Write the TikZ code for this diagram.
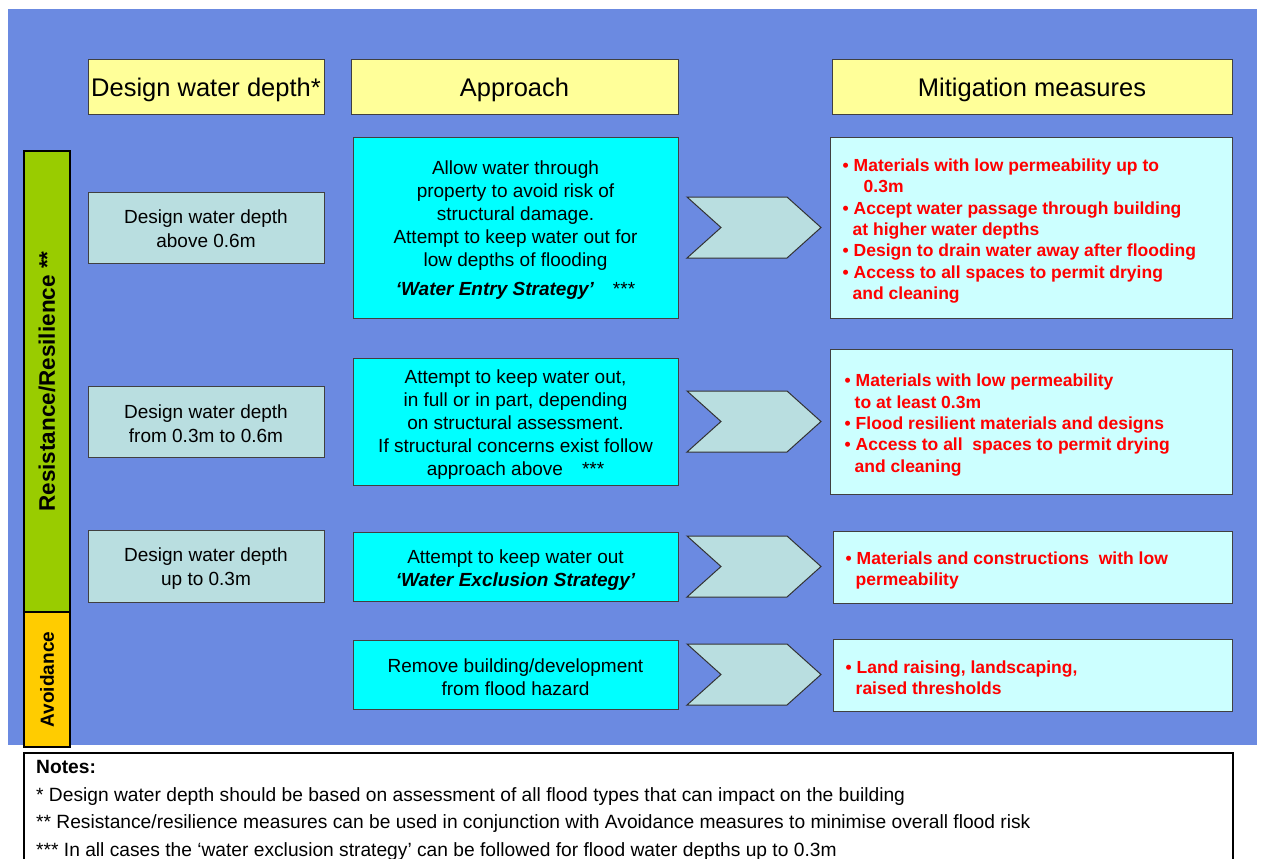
\documentclass[tikz,border=0pt]{standalone}
\usepackage{fontspec}
\setmainfont{Liberation Sans}
\newcommand\myfs[2]{\fontsize{#1}{#2}\selectfont}
\newcommand\bul{\textbullet\hspace{0.28em}}
\definecolor{bgB}{RGB}{107,138,225}
\definecolor{hdrY}{RGB}{255,255,153}
\definecolor{lightB}{RGB}{185,222,224}
\definecolor{cyanB}{RGB}{0,255,255}
\definecolor{mitiB}{RGB}{204,255,255}
\definecolor{greenB}{RGB}{153,204,0}
\definecolor{yellowB}{RGB}{255,204,0}
\begin{document}
\begin{tikzpicture}[x=1pt,y=-1pt,
  box/.style={draw=black!75, line width=1pt, inner sep=0pt},
  hdr/.style={box, fill=hdrY, minimum height=54pt},
  hdrtxt/.style={inner sep=0pt, font=\myfs{25.5}{30}},
  depth/.style={box, fill=lightB, minimum width=236pt, minimum height=71pt},
  depthtxt/.style={inner sep=0pt, align=center, font=\myfs{19}{24}},
  appr/.style={box, fill=cyanB, minimum width=325pt},
  apprtxt/.style={inner sep=0pt, align=center, font=\myfs{19}{23}},
  miti/.style={box, fill=mitiB},
  mititxt/.style={inner sep=0pt, align=left, anchor=west, font=\bfseries\myfs{17.5}{21.3}, text=red},
  chev/.style={draw=black!80, line width=1pt, fill=lightB},
  band/.style={draw=black, line width=2pt, inner sep=0pt, font=\bfseries}]
\useasboundingbox (0,0) rectangle (1261,859);
\clip (0,0) rectangle (1261,859);
\fill[white] (0,0) rectangle (1261,859);
\fill[bgB] (8,9) rectangle (1257,745);

% headers
\node[hdr, minimum width=236pt] (h1) at (206,87) {};
\node[hdr, minimum width=327pt] (h2) at (514.5,87) {};
\node[hdr, minimum width=400pt] (h3) at (1032,87) {};
\node[hdrtxt] (h1t) at ([yshift=-2.5pt]h1.center) {Design water depth*};
\node[hdrtxt] (h2t) at ([yshift=-2.5pt]h2.center) {Approach};
\node[hdrtxt] (h3t) at ([yshift=-2.5pt]h3.center) {Mitigation measures};

% side bands
\node[band, fill=greenB, rotate=90, minimum width=461pt, minimum height=46pt, font=\bfseries\myfs{22.5}{26}] (res) at (47,381.5) {Resistance/Resilience **};
\node[band, fill=yellowB, rotate=90, minimum width=135pt, minimum height=46pt, font=\bfseries\myfs{19}{23}] (avo) at (47,679.5) {Avoidance};

% design water depth boxes
\node[depth] (d1) at (206,227.5) {};
\node[depth] (d2) at (206,421.5) {};
\node[depth, minimum height=72pt] (d3) at (206,566) {};
\node[depthtxt] (d1t) at ([yshift=-1.5pt]d1.center) {Design water depth\\above 0.6m};
\node[depthtxt] (d2t) at ([yshift=-2pt]d2.center) {Design water depth\\from 0.3m to 0.6m};
\node[depthtxt] (d3t) at ([yshift=-2.5pt]d3.center) {Design water depth\\up to 0.3m};

% approach boxes
\node[appr, minimum height=181pt] (a1) at (515.5,227.5) {};
\node[appr, minimum height=127pt] (a2) at (515.5,421.5) {};
\node[appr, minimum height=69pt] (a3) at (515.5,566.5) {};
\node[appr, minimum height=69pt] (a4) at (515.5,674.5) {};
\node[apprtxt] (a1t) at ([yshift=-3pt]a1.center) {Allow water through\\property to avoid risk of\\structural damage.\\Attempt to keep water out for\\low depths of flooding\\[6pt]{\bfseries\itshape ‘Water Entry Strategy’}\quad***};
\node[apprtxt] (a2t) at ([yshift=-3.5pt]a2.center) {Attempt to keep water out,\\in full or in part, depending\\on structural assessment.\\If structural concerns exist follow\\approach above\quad***};
\node[apprtxt] (a3t) at ([yshift=-3.5pt]a3.center) {Attempt to keep water out\\{\bfseries\itshape ‘Water Exclusion Strategy’}};
\node[apprtxt] (a4t) at ([yshift=-3pt]a4.center) {Remove building/development\\from flood hazard};

% chevrons
\foreach \cy in {227.5,421.5,566.5,674.5}{
  \draw[chev,shift={(0,\cy)}] (687,-30.5) -- (787,-30.5) -- (821,0) -- (787,30.5) -- (687,30.5) -- (721,0) -- cycle;
}

% mitigation boxes
\node[miti, minimum width=402pt, minimum height=181pt] (m1) at (1031,227.5) {};
\node[miti, minimum width=402pt, minimum height=145pt] (m2) at (1031,421.5) {};
\node[miti, minimum width=399pt, minimum height=72pt] (m3) at (1032.5,567) {};
\node[miti, minimum width=399pt, minimum height=72pt] (m4) at (1032.5,675) {};
\node[mititxt] (m1t) at ([xshift=13pt,yshift=-3.5pt]m1.west) {\bul Materials with low permeability up to\\\hspace*{21pt}0.3m\\\bul Accept water passage through building\\\hspace*{10pt}at higher water depths\\\bul Design to drain water away after flooding\\\bul Access to all spaces to permit drying\\\hspace*{10pt}and cleaning};
\node[mititxt] (m2t) at ([xshift=15pt,yshift=-3.5pt]m2.west) {\bul Materials with low permeability\\\hspace*{10pt}to at least 0.3m\\\bul Flood resilient materials and designs\\\bul Access to all\ \ spaces to permit drying\\\hspace*{10pt}and cleaning};
\node[mititxt] (m3t) at ([xshift=13pt,yshift=-3.5pt]m3.west) {\bul Materials and constructions\ \ with low\\\hspace*{10pt}permeability};
\node[mititxt] (m4t) at ([xshift=13pt,yshift=-2.5pt]m4.west) {\bul Land raising, landscaping,\\\hspace*{10pt}raised thresholds};

% notes
\node[draw=black, line width=1.5pt, fill=white, minimum width=1209pt, minimum height=130pt, anchor=north west, inner sep=0pt] (notesbox) at (23,752) {};
\node[anchor=north west, align=left, inner sep=0pt, font=\myfs{19.2}{27.5}] (notes) at (36,760.5) {\textbf{Notes:}\\* Design water depth should be based on assessment of all flood types that can impact on the building\\** Resistance/resilience measures can be used in conjunction with Avoidance measures to minimise overall flood risk\\*** In all cases the ‘water exclusion strategy’ can be followed for flood water depths up to 0.3m};
\end{tikzpicture}
\end{document}
